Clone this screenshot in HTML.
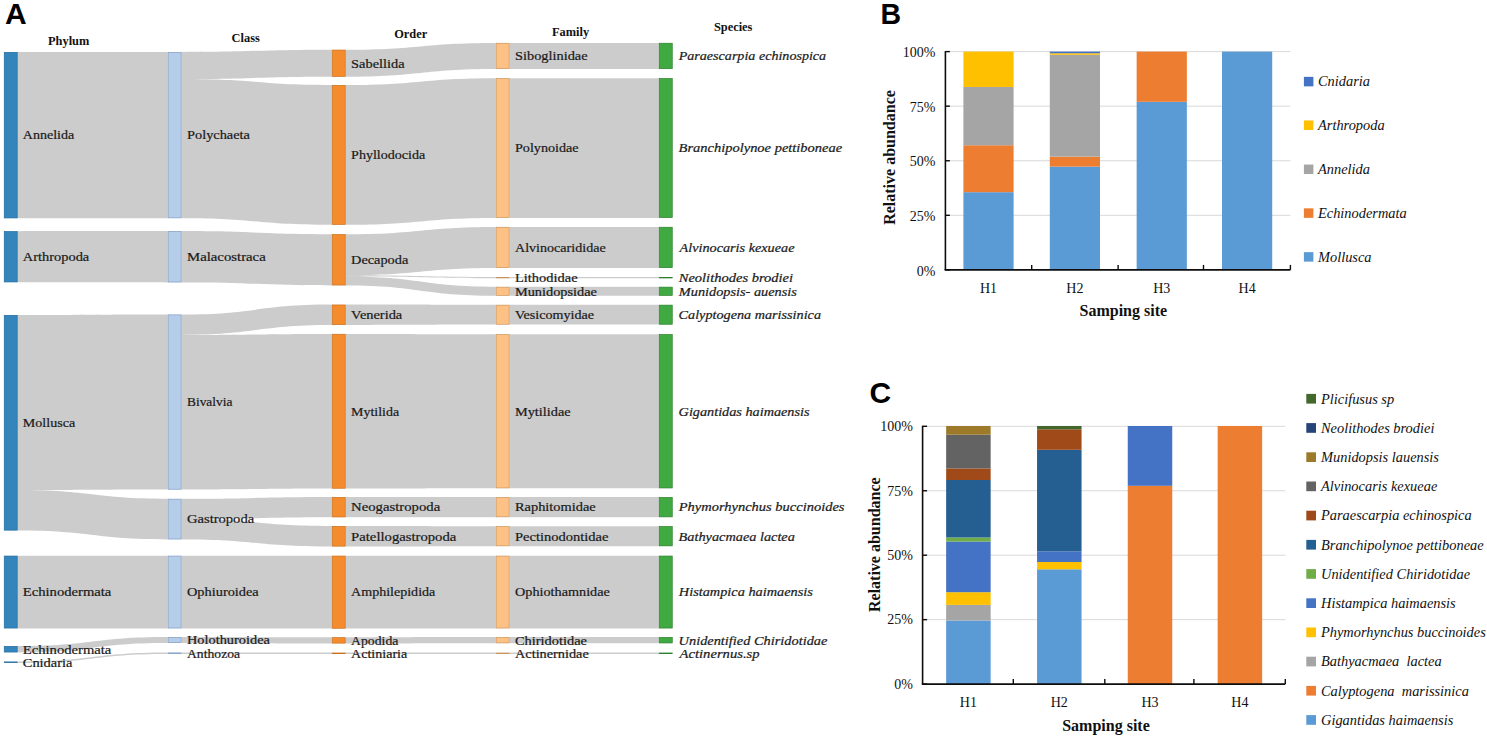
<!DOCTYPE html>
<html><head><meta charset="utf-8"><title>Figure</title>
<style>
html,body{margin:0;padding:0;background:#fff;}
body{width:1487px;height:740px;overflow:hidden;}
svg{display:block;}
text{font-family:"Liberation Serif", serif;}
text.sans{font-family:"Liberation Sans", sans-serif;font-weight:bold;}
</style></head><body>
<svg width="1487" height="740" viewBox="0 0 1487 740">
<rect width="1487" height="740" fill="#fff"/>

<text x="5" y="23.9" class="sans" font-size="30" fill="#000">A</text>
<text transform="translate(880.4,23.9) scale(0.95,1)" class="sans" font-size="30" fill="#000">B</text>
<text x="869.5" y="403.3" class="sans" font-size="30" fill="#000">C</text>
<g fill="#000" fill-opacity="0.2" stroke="none">
<path d="M17.60,52.00C92.70,52.00 92.70,52.00 167.80,52.00L167.80,218.20C92.70,218.20 92.70,218.30 17.60,218.30Z"/>
<path d="M17.60,231.20C92.70,231.20 92.70,231.10 167.80,231.10L167.80,282.40C92.70,282.40 92.70,282.30 17.60,282.30Z"/>
<path d="M17.60,315.00C92.70,315.00 92.70,314.50 167.80,314.50L167.80,489.60C92.70,489.60 92.70,490.10 17.60,490.10Z"/>
<path d="M17.60,490.10C92.70,490.10 92.70,498.80 167.80,498.80L167.80,539.40C92.70,539.40 92.70,530.50 17.60,530.50Z"/>
<path d="M17.60,555.70C92.70,555.70 92.70,555.70 167.80,555.70L167.80,628.40C92.70,628.40 92.70,628.40 17.60,628.40Z"/>
<path d="M17.60,646.00C92.70,646.00 92.70,637.00 167.80,637.00L167.80,643.00C92.70,643.00 92.70,652.40 17.60,652.40Z"/>
<path d="M17.60,661.50C92.70,661.50 92.70,652.50 167.80,652.50L167.80,653.90C92.70,653.90 92.70,662.90 17.60,662.90Z"/>
<path d="M181.50,52.00C256.70,52.00 256.70,49.70 331.90,49.70L331.90,76.80C256.70,76.80 256.70,79.10 181.50,79.10Z"/>
<path d="M181.50,79.10C256.70,79.10 256.70,85.00 331.90,85.00L331.90,224.80C256.70,224.80 256.70,218.20 181.50,218.20Z"/>
<path d="M181.50,231.10C256.70,231.10 256.70,234.20 331.90,234.20L331.90,285.40C256.70,285.40 256.70,282.40 181.50,282.40Z"/>
<path d="M181.50,314.50C256.70,314.50 256.70,304.60 331.90,304.60L331.90,325.00C256.70,325.00 256.70,334.90 181.50,334.90Z"/>
<path d="M181.50,334.90C256.70,334.90 256.70,333.90 331.90,333.90L331.90,488.60C256.70,488.60 256.70,489.60 181.50,489.60Z"/>
<path d="M181.50,498.80C256.70,498.80 256.70,497.00 331.90,497.00L331.90,517.30C256.70,517.30 256.70,519.10 181.50,519.10Z"/>
<path d="M181.50,519.10C256.70,519.10 256.70,526.00 331.90,526.00L331.90,546.50C256.70,546.50 256.70,539.40 181.50,539.40Z"/>
<path d="M181.50,555.70C256.70,555.70 256.70,555.70 331.90,555.70L331.90,628.60C256.70,628.60 256.70,628.40 181.50,628.40Z"/>
<path d="M181.50,637.00C256.70,637.00 256.70,637.30 331.90,637.30L331.90,643.50C256.70,643.50 256.70,643.00 181.50,643.00Z"/>
<path d="M181.50,652.50C256.70,652.50 256.70,652.60 331.90,652.60L331.90,654.00C256.70,654.00 256.70,653.90 181.50,653.90Z"/>
<path d="M345.60,49.70C420.70,49.70 420.70,42.90 495.80,42.90L495.80,69.00C420.70,69.00 420.70,76.80 345.60,76.80Z"/>
<path d="M345.60,85.00C420.70,85.00 420.70,78.20 495.80,78.20L495.80,217.90C420.70,217.90 420.70,224.80 345.60,224.80Z"/>
<path d="M345.60,234.20C420.70,234.20 420.70,226.90 495.80,226.90L495.80,268.00C420.70,268.00 420.70,275.30 345.60,275.30Z"/>
<path d="M345.60,275.30C420.70,275.30 420.70,277.00 495.80,277.00L495.80,278.30C420.70,278.30 420.70,276.60 345.60,276.60Z"/>
<path d="M345.60,276.60C420.70,276.60 420.70,286.80 495.80,286.80L495.80,295.70C420.70,295.70 420.70,285.40 345.60,285.40Z"/>
<path d="M345.60,304.60C420.70,304.60 420.70,304.80 495.80,304.80L495.80,324.60C420.70,324.60 420.70,325.00 345.60,325.00Z"/>
<path d="M345.60,333.90C420.70,333.90 420.70,334.20 495.80,334.20L495.80,488.30C420.70,488.30 420.70,488.60 345.60,488.60Z"/>
<path d="M345.60,497.00C420.70,497.00 420.70,497.10 495.80,497.10L495.80,517.20C420.70,517.20 420.70,517.30 345.60,517.30Z"/>
<path d="M345.60,526.00C420.70,526.00 420.70,526.20 495.80,526.20L495.80,546.20C420.70,546.20 420.70,546.50 345.60,546.50Z"/>
<path d="M345.60,555.70C420.70,555.70 420.70,555.70 495.80,555.70L495.80,628.40C420.70,628.40 420.70,628.60 345.60,628.60Z"/>
<path d="M345.60,637.30C420.70,637.30 420.70,637.10 495.80,637.10L495.80,643.30C420.70,643.30 420.70,643.50 345.60,643.50Z"/>
<path d="M345.60,652.60C420.70,652.60 420.70,652.60 495.80,652.60L495.80,654.00C420.70,654.00 420.70,654.00 345.60,654.00Z"/>
<path d="M509.50,42.90C584.20,42.90 584.20,42.90 658.90,42.90L658.90,69.00C584.20,69.00 584.20,69.00 509.50,69.00Z"/>
<path d="M509.50,78.20C584.20,78.20 584.20,78.20 658.90,78.20L658.90,217.90C584.20,217.90 584.20,217.90 509.50,217.90Z"/>
<path d="M509.50,226.90C584.20,226.90 584.20,226.90 658.90,226.90L658.90,268.00C584.20,268.00 584.20,268.00 509.50,268.00Z"/>
<path d="M509.50,277.00C584.20,277.00 584.20,277.00 658.90,277.00L658.90,278.30C584.20,278.30 584.20,278.30 509.50,278.30Z"/>
<path d="M509.50,286.80C584.20,286.80 584.20,286.80 658.90,286.80L658.90,295.70C584.20,295.70 584.20,295.70 509.50,295.70Z"/>
<path d="M509.50,304.80C584.20,304.80 584.20,304.80 658.90,304.80L658.90,324.60C584.20,324.60 584.20,324.60 509.50,324.60Z"/>
<path d="M509.50,334.20C584.20,334.20 584.20,334.20 658.90,334.20L658.90,488.30C584.20,488.30 584.20,488.30 509.50,488.30Z"/>
<path d="M509.50,497.10C584.20,497.10 584.20,497.10 658.90,497.10L658.90,517.20C584.20,517.20 584.20,517.20 509.50,517.20Z"/>
<path d="M509.50,526.20C584.20,526.20 584.20,526.20 658.90,526.20L658.90,546.20C584.20,546.20 584.20,546.20 509.50,546.20Z"/>
<path d="M509.50,555.70C584.20,555.70 584.20,555.70 658.90,555.70L658.90,628.40C584.20,628.40 584.20,628.40 509.50,628.40Z"/>
<path d="M509.50,637.10C584.20,637.10 584.20,637.10 658.90,637.10L658.90,643.30C584.20,643.30 584.20,643.30 509.50,643.30Z"/>
<path d="M509.50,652.60C584.20,652.60 584.20,652.60 658.90,652.60L658.90,654.00C584.20,654.00 584.20,654.00 509.50,654.00Z"/>
</g>
<rect x="4.25" y="52.35" width="13.00" height="165.60" fill="#3585bd" stroke="#1f6b9f" stroke-width="0.7"/>
<rect x="4.25" y="231.55" width="13.00" height="50.40" fill="#3585bd" stroke="#1f6b9f" stroke-width="0.7"/>
<rect x="4.25" y="315.35" width="13.00" height="214.80" fill="#3585bd" stroke="#1f6b9f" stroke-width="0.7"/>
<rect x="4.25" y="556.05" width="13.00" height="72.00" fill="#3585bd" stroke="#1f6b9f" stroke-width="0.7"/>
<rect x="4.25" y="646.35" width="13.00" height="5.70" fill="#3585bd" stroke="#1f6b9f" stroke-width="0.7"/>
<rect x="3.90" y="661.50" width="13.70" height="1.40" fill="#1f6b9f"/>
<rect x="168.15" y="52.35" width="13.00" height="165.50" fill="#b6cdea" stroke="#7f9cc2" stroke-width="0.7"/>
<rect x="168.15" y="231.45" width="13.00" height="50.60" fill="#b6cdea" stroke="#7f9cc2" stroke-width="0.7"/>
<rect x="168.15" y="314.85" width="13.00" height="174.40" fill="#b6cdea" stroke="#7f9cc2" stroke-width="0.7"/>
<rect x="168.15" y="499.15" width="13.00" height="39.90" fill="#b6cdea" stroke="#7f9cc2" stroke-width="0.7"/>
<rect x="168.15" y="556.05" width="13.00" height="72.00" fill="#b6cdea" stroke="#7f9cc2" stroke-width="0.7"/>
<rect x="168.15" y="637.35" width="13.00" height="5.30" fill="#b6cdea" stroke="#7f9cc2" stroke-width="0.7"/>
<rect x="167.80" y="652.50" width="13.70" height="1.40" fill="#7f9cc2"/>
<rect x="332.25" y="50.05" width="13.00" height="26.40" fill="#f48c2e" stroke="#c9701c" stroke-width="0.7"/>
<rect x="332.25" y="85.35" width="13.00" height="139.10" fill="#f48c2e" stroke="#c9701c" stroke-width="0.7"/>
<rect x="332.25" y="234.55" width="13.00" height="50.50" fill="#f48c2e" stroke="#c9701c" stroke-width="0.7"/>
<rect x="332.25" y="304.95" width="13.00" height="19.70" fill="#f48c2e" stroke="#c9701c" stroke-width="0.7"/>
<rect x="332.25" y="334.25" width="13.00" height="154.00" fill="#f48c2e" stroke="#c9701c" stroke-width="0.7"/>
<rect x="332.25" y="497.35" width="13.00" height="19.60" fill="#f48c2e" stroke="#c9701c" stroke-width="0.7"/>
<rect x="332.25" y="526.35" width="13.00" height="19.80" fill="#f48c2e" stroke="#c9701c" stroke-width="0.7"/>
<rect x="332.25" y="556.05" width="13.00" height="72.20" fill="#f48c2e" stroke="#c9701c" stroke-width="0.7"/>
<rect x="332.25" y="637.65" width="13.00" height="5.50" fill="#f48c2e" stroke="#c9701c" stroke-width="0.7"/>
<rect x="331.90" y="652.60" width="13.70" height="1.40" fill="#c9701c"/>
<rect x="496.15" y="43.25" width="13.00" height="25.40" fill="#fdc185" stroke="#c9935a" stroke-width="0.7"/>
<rect x="496.15" y="78.55" width="13.00" height="139.00" fill="#fdc185" stroke="#c9935a" stroke-width="0.7"/>
<rect x="496.15" y="227.25" width="13.00" height="40.40" fill="#fdc185" stroke="#c9935a" stroke-width="0.7"/>
<rect x="495.80" y="277.00" width="13.70" height="1.30" fill="#c9935a"/>
<rect x="496.15" y="287.15" width="13.00" height="8.20" fill="#fdc185" stroke="#c9935a" stroke-width="0.7"/>
<rect x="496.15" y="305.15" width="13.00" height="19.10" fill="#fdc185" stroke="#c9935a" stroke-width="0.7"/>
<rect x="496.15" y="334.55" width="13.00" height="153.40" fill="#fdc185" stroke="#c9935a" stroke-width="0.7"/>
<rect x="496.15" y="497.45" width="13.00" height="19.40" fill="#fdc185" stroke="#c9935a" stroke-width="0.7"/>
<rect x="496.15" y="526.55" width="13.00" height="19.30" fill="#fdc185" stroke="#c9935a" stroke-width="0.7"/>
<rect x="496.15" y="556.05" width="13.00" height="72.00" fill="#fdc185" stroke="#c9935a" stroke-width="0.7"/>
<rect x="496.15" y="637.45" width="13.00" height="5.50" fill="#fdc185" stroke="#c9935a" stroke-width="0.7"/>
<rect x="495.80" y="652.60" width="13.70" height="1.40" fill="#c9935a"/>
<rect x="659.25" y="43.25" width="13.00" height="25.40" fill="#41a942" stroke="#2a7f2c" stroke-width="0.7"/>
<rect x="659.25" y="78.55" width="13.00" height="139.00" fill="#41a942" stroke="#2a7f2c" stroke-width="0.7"/>
<rect x="659.25" y="227.25" width="13.00" height="40.40" fill="#41a942" stroke="#2a7f2c" stroke-width="0.7"/>
<rect x="658.90" y="277.00" width="13.70" height="1.30" fill="#2a7f2c"/>
<rect x="659.25" y="287.15" width="13.00" height="8.20" fill="#41a942" stroke="#2a7f2c" stroke-width="0.7"/>
<rect x="659.25" y="305.15" width="13.00" height="19.10" fill="#41a942" stroke="#2a7f2c" stroke-width="0.7"/>
<rect x="659.25" y="334.55" width="13.00" height="153.40" fill="#41a942" stroke="#2a7f2c" stroke-width="0.7"/>
<rect x="659.25" y="497.45" width="13.00" height="19.40" fill="#41a942" stroke="#2a7f2c" stroke-width="0.7"/>
<rect x="659.25" y="526.55" width="13.00" height="19.30" fill="#41a942" stroke="#2a7f2c" stroke-width="0.7"/>
<rect x="659.25" y="556.05" width="13.00" height="72.00" fill="#41a942" stroke="#2a7f2c" stroke-width="0.7"/>
<rect x="659.25" y="637.45" width="13.00" height="5.50" fill="#41a942" stroke="#2a7f2c" stroke-width="0.7"/>
<rect x="658.90" y="652.60" width="13.70" height="1.40" fill="#2a7f2c"/>
<text transform="translate(22.80,139.45) scale(1.080,1)" font-size="13" font-style="normal" fill="#1a1a1a" stroke="#1a1a1a" stroke-width="0.22">Annelida</text>
<text transform="translate(22.80,261.05) scale(1.110,1)" font-size="13" font-style="normal" fill="#1a1a1a" stroke="#1a1a1a" stroke-width="0.22">Arthropoda</text>
<text transform="translate(22.80,427.05) scale(1.083,1)" font-size="13" font-style="normal" fill="#1a1a1a" stroke="#1a1a1a" stroke-width="0.22">Mollusca</text>
<text transform="translate(22.80,596.35) scale(1.126,1)" font-size="13" font-style="normal" fill="#1a1a1a" stroke="#1a1a1a" stroke-width="0.22">Echinodermata</text>
<text transform="translate(22.80,653.50) scale(1.126,1)" font-size="13" font-style="normal" fill="#1a1a1a" stroke="#1a1a1a" stroke-width="0.22">Echinodermata</text>
<text transform="translate(22.80,666.50) scale(1.107,1)" font-size="13" font-style="normal" fill="#1a1a1a" stroke="#1a1a1a" stroke-width="0.22">Cnidaria</text>
<text transform="translate(187.00,139.40) scale(1.105,1)" font-size="13" font-style="normal" fill="#1a1a1a" stroke="#1a1a1a" stroke-width="0.22">Polychaeta</text>
<text transform="translate(187.00,261.05) scale(1.137,1)" font-size="13" font-style="normal" fill="#1a1a1a" stroke="#1a1a1a" stroke-width="0.22">Malacostraca</text>
<text transform="translate(187.00,406.35) scale(1.030,1)" font-size="13" font-style="normal" fill="#1a1a1a" stroke="#1a1a1a" stroke-width="0.22">Bivalvia</text>
<text transform="translate(187.00,523.40) scale(1.122,1)" font-size="13" font-style="normal" fill="#1a1a1a" stroke="#1a1a1a" stroke-width="0.22">Gastropoda</text>
<text transform="translate(187.00,596.35) scale(1.105,1)" font-size="13" font-style="normal" fill="#1a1a1a" stroke="#1a1a1a" stroke-width="0.22">Ophiuroidea</text>
<text transform="translate(187.00,644.30) scale(1.104,1)" font-size="13" font-style="normal" fill="#1a1a1a" stroke="#1a1a1a" stroke-width="0.22">Holothuroidea</text>
<text transform="translate(187.00,657.50) scale(1.051,1)" font-size="13" font-style="normal" fill="#1a1a1a" stroke="#1a1a1a" stroke-width="0.22">Anthozoa</text>
<text transform="translate(351.10,67.55) scale(1.107,1)" font-size="13" font-style="normal" fill="#1a1a1a" stroke="#1a1a1a" stroke-width="0.22">Sabellida</text>
<text transform="translate(351.10,159.20) scale(1.082,1)" font-size="13" font-style="normal" fill="#1a1a1a" stroke="#1a1a1a" stroke-width="0.22">Phyllodocida</text>
<text transform="translate(351.10,264.10) scale(1.102,1)" font-size="13" font-style="normal" fill="#1a1a1a" stroke="#1a1a1a" stroke-width="0.22">Decapoda</text>
<text transform="translate(351.10,319.10) scale(1.108,1)" font-size="13" font-style="normal" fill="#1a1a1a" stroke="#1a1a1a" stroke-width="0.22">Venerida</text>
<text transform="translate(351.10,415.55) scale(1.074,1)" font-size="13" font-style="normal" fill="#1a1a1a" stroke="#1a1a1a" stroke-width="0.22">Mytilida</text>
<text transform="translate(351.10,511.45) scale(1.133,1)" font-size="13" font-style="normal" fill="#1a1a1a" stroke="#1a1a1a" stroke-width="0.22">Neogastropoda</text>
<text transform="translate(351.10,540.55) scale(1.131,1)" font-size="13" font-style="normal" fill="#1a1a1a" stroke="#1a1a1a" stroke-width="0.22">Patellogastropoda</text>
<text transform="translate(351.10,596.45) scale(1.081,1)" font-size="13" font-style="normal" fill="#1a1a1a" stroke="#1a1a1a" stroke-width="0.22">Amphilepidida</text>
<text transform="translate(351.10,644.70) scale(1.056,1)" font-size="13" font-style="normal" fill="#1a1a1a" stroke="#1a1a1a" stroke-width="0.22">Apodida</text>
<text transform="translate(351.10,657.60) scale(1.081,1)" font-size="13" font-style="normal" fill="#1a1a1a" stroke="#1a1a1a" stroke-width="0.22">Actiniaria</text>
<text transform="translate(515.00,60.25) scale(1.105,1)" font-size="13" font-style="normal" fill="#1a1a1a" stroke="#1a1a1a" stroke-width="0.22">Siboglinidae</text>
<text transform="translate(515.00,152.35) scale(1.087,1)" font-size="13" font-style="normal" fill="#1a1a1a" stroke="#1a1a1a" stroke-width="0.22">Polynoidae</text>
<text transform="translate(515.00,251.75) scale(1.084,1)" font-size="13" font-style="normal" fill="#1a1a1a" stroke="#1a1a1a" stroke-width="0.22">Alvinocarididae</text>
<text transform="translate(515.00,281.95) scale(1.112,1)" font-size="13" font-style="normal" fill="#1a1a1a" stroke="#1a1a1a" stroke-width="0.22">Lithodidae</text>
<text transform="translate(515.00,295.55) scale(1.102,1)" font-size="13" font-style="normal" fill="#1a1a1a" stroke="#1a1a1a" stroke-width="0.22">Munidopsidae</text>
<text transform="translate(515.00,319.00) scale(1.084,1)" font-size="13" font-style="normal" fill="#1a1a1a" stroke="#1a1a1a" stroke-width="0.22">Vesicomyidae</text>
<text transform="translate(515.00,415.55) scale(1.101,1)" font-size="13" font-style="normal" fill="#1a1a1a" stroke="#1a1a1a" stroke-width="0.22">Mytilidae</text>
<text transform="translate(515.00,511.45) scale(1.108,1)" font-size="13" font-style="normal" fill="#1a1a1a" stroke="#1a1a1a" stroke-width="0.22">Raphitomidae</text>
<text transform="translate(515.00,540.50) scale(1.117,1)" font-size="13" font-style="normal" fill="#1a1a1a" stroke="#1a1a1a" stroke-width="0.22">Pectinodontidae</text>
<text transform="translate(515.00,596.35) scale(1.096,1)" font-size="13" font-style="normal" fill="#1a1a1a" stroke="#1a1a1a" stroke-width="0.22">Ophiothamnidae</text>
<text transform="translate(515.00,644.50) scale(1.108,1)" font-size="13" font-style="normal" fill="#1a1a1a" stroke="#1a1a1a" stroke-width="0.22">Chiridotidae</text>
<text transform="translate(515.00,657.60) scale(1.100,1)" font-size="13" font-style="normal" fill="#1a1a1a" stroke="#1a1a1a" stroke-width="0.22">Actinernidae</text>
<text transform="translate(678.71,60.25) scale(1.084,1)" font-size="13" font-style="italic" fill="#1a1a1a" stroke="#1a1a1a" stroke-width="0.22">Paraescarpia echinospica</text>
<text transform="translate(678.60,152.35) scale(1.114,1)" font-size="13" font-style="italic" fill="#1a1a1a" stroke="#1a1a1a" stroke-width="0.22">Branchipolynoe pettiboneae</text>
<text transform="translate(679.48,251.75) scale(1.096,1)" font-size="13" font-style="italic" fill="#1a1a1a" stroke="#1a1a1a" stroke-width="0.22">Alvinocaris kexueae</text>
<text transform="translate(678.71,281.95) scale(1.118,1)" font-size="13" font-style="italic" fill="#1a1a1a" stroke="#1a1a1a" stroke-width="0.22">Neolithodes brodiei</text>
<text transform="translate(678.82,295.55) scale(1.101,1)" font-size="13" font-style="italic" fill="#1a1a1a" stroke="#1a1a1a" stroke-width="0.22">Munidopsis- auensis</text>
<text transform="translate(678.60,319.00) scale(1.093,1)" font-size="13" font-style="italic" fill="#1a1a1a" stroke="#1a1a1a" stroke-width="0.22">Calyptogena marissinica</text>
<text transform="translate(678.60,415.55) scale(1.097,1)" font-size="13" font-style="italic" fill="#1a1a1a" stroke="#1a1a1a" stroke-width="0.22">Gigantidas haimaensis</text>
<text transform="translate(678.71,511.45) scale(1.115,1)" font-size="13" font-style="italic" fill="#1a1a1a" stroke="#1a1a1a" stroke-width="0.22">Phymorhynchus buccinoides</text>
<text transform="translate(678.60,540.50) scale(1.100,1)" font-size="13" font-style="italic" fill="#1a1a1a" stroke="#1a1a1a" stroke-width="0.22">Bathyacmaea lactea</text>
<text transform="translate(678.82,596.35) scale(1.103,1)" font-size="13" font-style="italic" fill="#1a1a1a" stroke="#1a1a1a" stroke-width="0.22">Histampica haimaensis</text>
<text transform="translate(678.60,644.50) scale(1.106,1)" font-size="13" font-style="italic" fill="#1a1a1a" stroke="#1a1a1a" stroke-width="0.22">Unidentified Chiridotidae</text>
<text transform="translate(679.50,657.60) scale(1.127,1)" font-size="13" font-style="italic" fill="#1a1a1a" stroke="#1a1a1a" stroke-width="0.22">Actinernus.sp</text>
<text x="48" y="45.3" font-size="12.4" font-weight="bold" fill="#111">Phylum</text>
<text x="231.6" y="42.4" font-size="12.4" font-weight="bold" fill="#111">Class</text>
<text x="394.2" y="38" font-size="12.4" font-weight="bold" fill="#111">Order</text>
<text x="552" y="35.7" font-size="12.4" font-weight="bold" fill="#111">Family</text>
<text x="713.9" y="31" font-size="12.4" font-weight="bold" fill="#111">Species</text>
<line x1="945.4" y1="215.32" x2="1290.40" y2="215.32" stroke="#d9d9d9" stroke-width="1"/>
<line x1="945.4" y1="160.75" x2="1290.40" y2="160.75" stroke="#d9d9d9" stroke-width="1"/>
<line x1="945.4" y1="106.17" x2="1290.40" y2="106.17" stroke="#d9d9d9" stroke-width="1"/>
<line x1="945.4" y1="51.60" x2="1290.40" y2="51.60" stroke="#d9d9d9" stroke-width="1"/>
<rect x="963.40" y="192.19" width="50.20" height="77.71" fill="#5b9bd5"/>
<rect x="963.40" y="145.25" width="50.20" height="46.93" fill="#ed7d31"/>
<rect x="963.40" y="86.96" width="50.20" height="58.29" fill="#a5a5a5"/>
<rect x="963.40" y="51.60" width="50.20" height="35.36" fill="#ffc000"/>
<rect x="1049.80" y="166.64" width="50.20" height="103.26" fill="#5b9bd5"/>
<rect x="1049.80" y="156.60" width="50.20" height="10.04" fill="#ed7d31"/>
<rect x="1049.80" y="54.77" width="50.20" height="101.84" fill="#a5a5a5"/>
<rect x="1049.80" y="53.24" width="50.20" height="1.53" fill="#ffc000"/>
<rect x="1049.80" y="51.60" width="50.20" height="1.64" fill="#4472c4"/>
<rect x="1136.65" y="101.81" width="50.20" height="168.09" fill="#5b9bd5"/>
<rect x="1136.65" y="51.60" width="50.20" height="50.21" fill="#ed7d31"/>
<rect x="1222.00" y="51.60" width="50.20" height="218.30" fill="#5b9bd5"/>
<line x1="945.4" y1="51.10" x2="945.4" y2="269.90" stroke="#0d0d0d" stroke-width="1.6"/>
<line x1="944.6" y1="269.90" x2="1290.40" y2="269.90" stroke="#0d0d0d" stroke-width="1.6"/>
<line x1="945.4" y1="269.90" x2="949.9" y2="269.90" stroke="#0d0d0d" stroke-width="1.4"/>
<text x="935.5" y="275.50" font-size="14" text-anchor="end" fill="#111">0%</text>
<line x1="945.4" y1="215.32" x2="949.9" y2="215.32" stroke="#0d0d0d" stroke-width="1.4"/>
<text x="935.5" y="220.92" font-size="14" text-anchor="end" fill="#111">25%</text>
<line x1="945.4" y1="160.75" x2="949.9" y2="160.75" stroke="#0d0d0d" stroke-width="1.4"/>
<text x="935.5" y="166.35" font-size="14" text-anchor="end" fill="#111">50%</text>
<line x1="945.4" y1="106.17" x2="949.9" y2="106.17" stroke="#0d0d0d" stroke-width="1.4"/>
<text x="935.5" y="111.77" font-size="14" text-anchor="end" fill="#111">75%</text>
<line x1="945.4" y1="51.60" x2="949.9" y2="51.60" stroke="#0d0d0d" stroke-width="1.4"/>
<text x="935.5" y="57.20" font-size="14" text-anchor="end" fill="#111">100%</text>
<line x1="1031.70" y1="264.90" x2="1031.70" y2="269.90" stroke="#0d0d0d" stroke-width="1.4"/>
<line x1="1118.10" y1="264.90" x2="1118.10" y2="269.90" stroke="#0d0d0d" stroke-width="1.4"/>
<line x1="1203.50" y1="264.90" x2="1203.50" y2="269.90" stroke="#0d0d0d" stroke-width="1.4"/>
<line x1="1290.40" y1="264.90" x2="1290.40" y2="269.90" stroke="#0d0d0d" stroke-width="1.4"/>
<text x="988.50" y="293.4" font-size="14" text-anchor="middle" fill="#111">H1</text>
<text x="1074.90" y="293.4" font-size="14" text-anchor="middle" fill="#111">H2</text>
<text x="1161.75" y="293.4" font-size="14" text-anchor="middle" fill="#111">H3</text>
<text x="1247.10" y="293.4" font-size="14" text-anchor="middle" fill="#111">H4</text>
<text x="1123.3" y="315.79999999999995" font-size="16" font-weight="bold" text-anchor="middle" fill="#111">Samping site</text>
<text transform="translate(895,157.5) rotate(-90)" font-size="16" font-weight="bold" text-anchor="middle" fill="#111">Relative abundance</text>
<rect x="1303.9" y="76.85" width="9.5" height="9.5" fill="#4472c4"/>
<text x="1318" y="86.30" font-size="14.4" font-style="italic" fill="#111">Cnidaria</text>
<rect x="1303.9" y="120.45" width="9.5" height="9.5" fill="#ffc000"/>
<text x="1318" y="129.90" font-size="14.4" font-style="italic" fill="#111">Arthropoda</text>
<rect x="1303.9" y="164.55" width="9.5" height="9.5" fill="#a5a5a5"/>
<text x="1318" y="174.00" font-size="14.4" font-style="italic" fill="#111">Annelida</text>
<rect x="1303.9" y="208.35" width="9.5" height="9.5" fill="#ed7d31"/>
<text x="1318" y="217.80" font-size="14.4" font-style="italic" fill="#111">Echinodermata</text>
<rect x="1303.9" y="252.15" width="9.5" height="9.5" fill="#5b9bd5"/>
<text x="1318" y="261.60" font-size="14.4" font-style="italic" fill="#111">Mollusca</text>
<line x1="922.6" y1="619.65" x2="1285.30" y2="619.65" stroke="#d9d9d9" stroke-width="1"/>
<line x1="922.6" y1="555.20" x2="1285.30" y2="555.20" stroke="#d9d9d9" stroke-width="1"/>
<line x1="922.6" y1="490.75" x2="1285.30" y2="490.75" stroke="#d9d9d9" stroke-width="1"/>
<line x1="922.6" y1="426.30" x2="1285.30" y2="426.30" stroke="#d9d9d9" stroke-width="1"/>
<rect x="946.15" y="620.50" width="44.50" height="63.60" fill="#5b9bd5"/>
<rect x="946.15" y="604.90" width="44.50" height="15.60" fill="#a5a5a5"/>
<rect x="946.15" y="592.20" width="44.50" height="12.70" fill="#ffc000"/>
<rect x="946.15" y="541.50" width="44.50" height="50.70" fill="#4472c4"/>
<rect x="946.15" y="537.50" width="44.50" height="4.00" fill="#70ad47"/>
<rect x="946.15" y="480.00" width="44.50" height="57.50" fill="#255e91"/>
<rect x="946.15" y="468.40" width="44.50" height="11.60" fill="#a04a1a"/>
<rect x="946.15" y="434.70" width="44.50" height="33.70" fill="#636363"/>
<rect x="946.15" y="426.00" width="44.50" height="8.70" fill="#9c7a2a"/>
<rect x="1037.05" y="569.30" width="44.50" height="114.80" fill="#5b9bd5"/>
<rect x="1037.05" y="562.00" width="44.50" height="7.30" fill="#ffc000"/>
<rect x="1037.05" y="551.30" width="44.50" height="10.70" fill="#4472c4"/>
<rect x="1037.05" y="449.80" width="44.50" height="101.50" fill="#255e91"/>
<rect x="1037.05" y="429.30" width="44.50" height="20.50" fill="#a04a1a"/>
<rect x="1037.05" y="426.00" width="44.50" height="3.30" fill="#43682b"/>
<rect x="1127.75" y="485.80" width="44.50" height="198.30" fill="#ed7d31"/>
<rect x="1127.75" y="426.00" width="44.50" height="59.80" fill="#4472c4"/>
<rect x="1217.65" y="426.00" width="44.50" height="258.10" fill="#ed7d31"/>
<line x1="922.6" y1="425.80" x2="922.6" y2="684.10" stroke="#0d0d0d" stroke-width="1.6"/>
<line x1="921.8000000000001" y1="684.10" x2="1285.30" y2="684.10" stroke="#0d0d0d" stroke-width="1.6"/>
<line x1="922.6" y1="684.10" x2="927.1" y2="684.10" stroke="#0d0d0d" stroke-width="1.4"/>
<text x="913" y="688.90" font-size="14" text-anchor="end" fill="#111">0%</text>
<line x1="922.6" y1="619.65" x2="927.1" y2="619.65" stroke="#0d0d0d" stroke-width="1.4"/>
<text x="913" y="624.45" font-size="14" text-anchor="end" fill="#111">25%</text>
<line x1="922.6" y1="555.20" x2="927.1" y2="555.20" stroke="#0d0d0d" stroke-width="1.4"/>
<text x="913" y="560.00" font-size="14" text-anchor="end" fill="#111">50%</text>
<line x1="922.6" y1="490.75" x2="927.1" y2="490.75" stroke="#0d0d0d" stroke-width="1.4"/>
<text x="913" y="495.55" font-size="14" text-anchor="end" fill="#111">75%</text>
<line x1="922.6" y1="426.30" x2="927.1" y2="426.30" stroke="#0d0d0d" stroke-width="1.4"/>
<text x="913" y="431.10" font-size="14" text-anchor="end" fill="#111">100%</text>
<line x1="1013.30" y1="679.10" x2="1013.30" y2="684.10" stroke="#0d0d0d" stroke-width="1.4"/>
<line x1="1104.80" y1="679.10" x2="1104.80" y2="684.10" stroke="#0d0d0d" stroke-width="1.4"/>
<line x1="1193.90" y1="679.10" x2="1193.90" y2="684.10" stroke="#0d0d0d" stroke-width="1.4"/>
<line x1="1285.30" y1="679.10" x2="1285.30" y2="684.10" stroke="#0d0d0d" stroke-width="1.4"/>
<text x="968.40" y="707" font-size="14" text-anchor="middle" fill="#111">H1</text>
<text x="1059.30" y="707" font-size="14" text-anchor="middle" fill="#111">H2</text>
<text x="1150.00" y="707" font-size="14" text-anchor="middle" fill="#111">H3</text>
<text x="1239.90" y="707" font-size="14" text-anchor="middle" fill="#111">H4</text>
<text x="1106" y="730.8" font-size="16" font-weight="bold" text-anchor="middle" fill="#111">Samping site</text>
<text transform="translate(879.6,544.7) rotate(-90)" font-size="16" font-weight="bold" text-anchor="middle" fill="#111">Relative abundance</text>
<rect x="1306.3" y="393.90" width="9.7" height="9.7" fill="#43682b"/>
<text x="1321" y="403.50" font-size="14.4" font-style="italic" fill="#111" xml:space="preserve">Plicifusus sp</text>
<rect x="1306.3" y="423.10" width="9.7" height="9.7" fill="#264478"/>
<text x="1321" y="432.70" font-size="14.4" font-style="italic" fill="#111" xml:space="preserve">Neolithodes brodiei</text>
<rect x="1306.3" y="452.30" width="9.7" height="9.7" fill="#9c7a2a"/>
<text x="1321" y="461.90" font-size="14.4" font-style="italic" fill="#111" xml:space="preserve">Munidopsis lauensis</text>
<rect x="1306.3" y="481.50" width="9.7" height="9.7" fill="#636363"/>
<text x="1321" y="491.10" font-size="14.4" font-style="italic" fill="#111" xml:space="preserve">Alvinocaris kexueae</text>
<rect x="1306.3" y="510.70" width="9.7" height="9.7" fill="#a04a1a"/>
<text x="1321" y="520.30" font-size="14.4" font-style="italic" fill="#111" xml:space="preserve">Paraescarpia echinospica</text>
<rect x="1306.3" y="539.90" width="9.7" height="9.7" fill="#255e91"/>
<text x="1321" y="549.50" font-size="14.4" font-style="italic" fill="#111" xml:space="preserve">Branchipolynoe pettiboneae</text>
<rect x="1306.3" y="569.10" width="9.7" height="9.7" fill="#70ad47"/>
<text x="1321" y="578.70" font-size="14.4" font-style="italic" fill="#111" xml:space="preserve">Unidentified Chiridotidae</text>
<rect x="1306.3" y="598.30" width="9.7" height="9.7" fill="#4472c4"/>
<text x="1321" y="607.90" font-size="14.4" font-style="italic" fill="#111" xml:space="preserve">Histampica haimaensis</text>
<rect x="1306.3" y="627.50" width="9.7" height="9.7" fill="#ffc000"/>
<text x="1321" y="637.10" font-size="14.4" font-style="italic" fill="#111" xml:space="preserve">Phymorhynchus buccinoides</text>
<rect x="1306.3" y="656.70" width="9.7" height="9.7" fill="#a5a5a5"/>
<text x="1321" y="666.30" font-size="14.4" font-style="italic" fill="#111" xml:space="preserve">Bathyacmaea  lactea</text>
<rect x="1306.3" y="685.90" width="9.7" height="9.7" fill="#ed7d31"/>
<text x="1321" y="695.50" font-size="14.4" font-style="italic" fill="#111" xml:space="preserve">Calyptogena  marissinica</text>
<rect x="1306.3" y="715.10" width="9.7" height="9.7" fill="#5b9bd5"/>
<text x="1321" y="724.70" font-size="14.4" font-style="italic" fill="#111" xml:space="preserve">Gigantidas haimaensis</text>
</svg>
</body></html>
